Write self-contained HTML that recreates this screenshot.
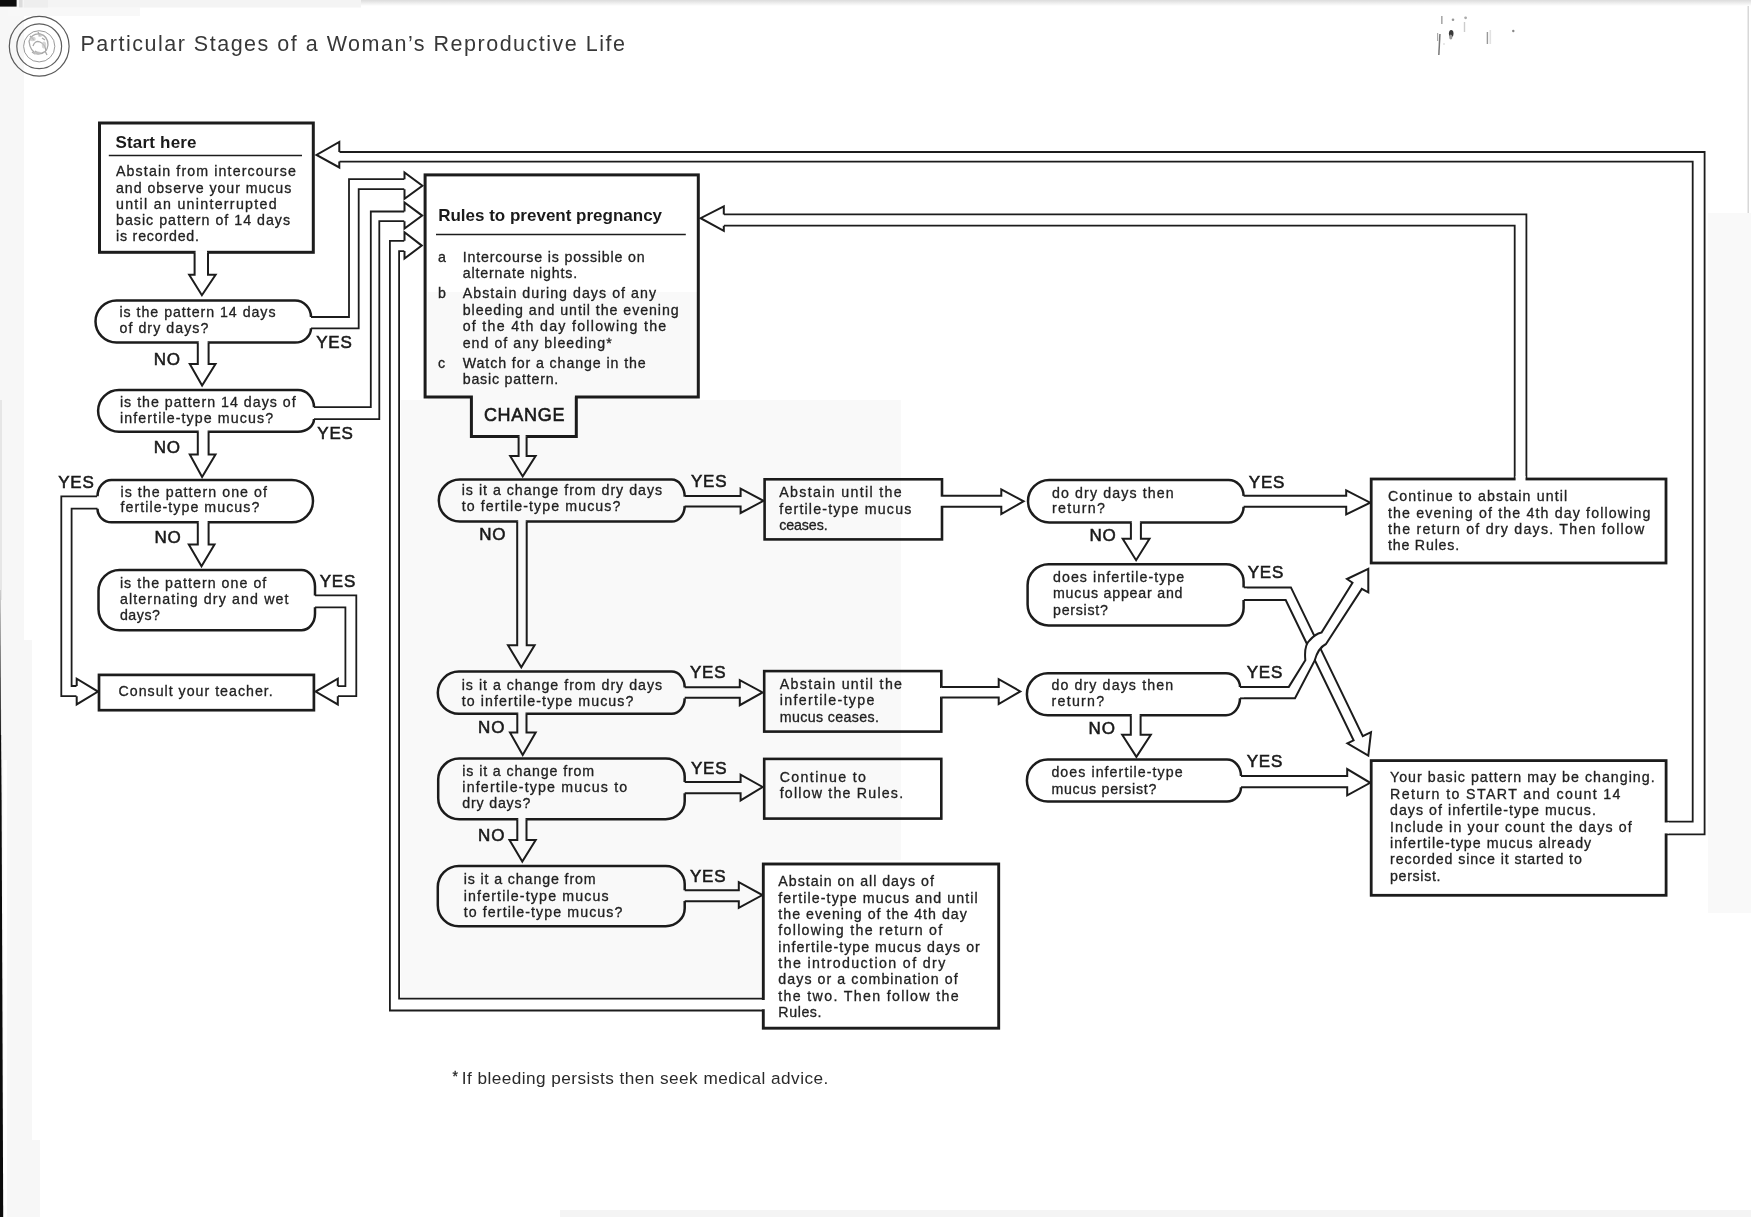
<!DOCTYPE html>
<html lang="en"><head><meta charset="utf-8"><title>Particular Stages of a Woman's Reproductive Life</title>
<style>
html,body{margin:0;padding:0;background:#fff;}
body{width:1751px;height:1217px;overflow:hidden;}
svg{display:block;filter:grayscale(1) blur(0.35px);font-family:"Liberation Sans",sans-serif;}
svg text{white-space:pre;}
</style></head><body>
<svg width="1751" height="1217" viewBox="0 0 1751 1217">
<defs><linearGradient id="tg" x1="0" y1="0" x2="0" y2="1"><stop offset="0" stop-color="#dcdcdc"/><stop offset="1" stop-color="#ffffff"/></linearGradient></defs>
<rect x="0" y="0" width="1751" height="1217" fill="#fff"/>
<path d="M0,0 L24,0 L24,640 L32,640 L32,1140 L40,1140 L40,1217 L0,1217 Z" fill="#f7f7f7"/>
<rect x="8" y="7.5" width="132" height="8.5" fill="#f8f8f8"/>
<defs><linearGradient id="lg" x1="0" y1="0" x2="0" y2="1"><stop offset="0" stop-color="#c8c8c8"/><stop offset="1" stop-color="#1a1a1a"/></linearGradient></defs>
<rect x="0" y="400" width="2" height="200" fill="#e6e6e6"/>
<path d="M0,590 L0.8,590 L1.1,740 L0,740 Z" fill="url(#lg)"/>
<path d="M3.4,760 L7,760 L7,1217 L3.4,1217 Z" fill="#fff"/>
<path d="M0,735 L1.1,735 L1.6,800 L3.2,1217 L0,1217 Z" fill="#0c0c0c"/>
<rect x="1708" y="213" width="43" height="700" fill="#f9f9f9"/>
<rect x="23" y="0" width="338" height="7.5" fill="#f4f4f4"/>
<rect x="24" y="0" width="24" height="7.6" fill="#eeeeee"/>
<rect x="361" y="0" width="1390" height="6" fill="url(#tg)"/>
<rect x="1747.5" y="6" width="1.5" height="207" fill="#d8d8d8"/>
<rect x="0" y="0" width="16.6" height="6.6" fill="#0c0c0c"/>
<rect x="19" y="0" width="3.6" height="7.4" fill="#dcdcdc"/>
<circle cx="39.2" cy="46.3" r="29.9" fill="none" stroke="#5a5a5a" stroke-width="1.2"/>
<circle cx="39.2" cy="46.3" r="22.4" fill="none" stroke="#5e5e5e" stroke-width="1.2"/>
<circle cx="39.2" cy="46.3" r="15.6" fill="none" stroke="#9a9a9a" stroke-width="1.0"/>
<g fill="none" stroke="#a8a8a8" stroke-width="1.3"><path d="M29,41 q3,-8 11,-7 q8,2 8,11 q-1,9 -10,9 q-8,-2 -9,-13"/><path d="M33,46 q2,-6 7,-4 q5,2 6,9"/><path d="M35,51 q4,4 9,1"/><path d="M30,36 l4,4 M38,32 l2,4 M45,51 l2,4 M42,38 l3,2 M32,52 l3,2"/></g>
<g fill="#c4c4c4" opacity="0.7"><ellipse cx="32.5" cy="39" rx="3.2" ry="2.2"/><ellipse cx="44" cy="45" rx="2.2" ry="3.5"/><ellipse cx="37" cy="53" rx="3.5" ry="1.8"/><ellipse cx="40" cy="35.5" rx="2" ry="1.6"/></g>
<text x="80.5" y="50.6" font-size="21.5" textLength="544.5" lengthAdjust="spacing" font-weight="normal" fill="#383838" >Particular Stages of a Woman’s Reproductive Life</text>
<g><ellipse cx="1451.2" cy="33.5" rx="2.3" ry="3.6" fill="#3a3a3a"/><ellipse cx="1450.8" cy="37" rx="1.6" ry="2.5" fill="#999"/><rect x="1438.6" y="34" width="1.5" height="21" fill="#777" transform="rotate(3 1439 45)"/><rect x="1437" y="33" width="1.2" height="8" fill="#aaa"/><rect x="1441" y="16" width="1.6" height="8" fill="#aaa"/><circle cx="1453" cy="19.7" r="1.3" fill="#999"/><circle cx="1465.6" cy="17.8" r="1.4" fill="#aaa"/><rect x="1463.8" y="22" width="1.4" height="10" fill="#ccc"/><rect x="1486.7" y="32" width="1.4" height="12" fill="#999"/><rect x="1489.5" y="30" width="1.6" height="14" fill="#e2e2e2"/><circle cx="1513.3" cy="31" r="1.2" fill="#888"/><circle cx="1444" cy="44" r="0.8" fill="#ccc"/></g>
<path d="M1667,821.6 L1692.7,821.6 L1692.7,161.6 L339.3,161.6" fill="none" stroke="#1c1c1c" stroke-width="1.8" stroke-linejoin="miter" stroke-miterlimit="10" />
<path d="M1667,834.3 L1704.6,834.3 L1704.6,152 L339.3,152" fill="none" stroke="#1c1c1c" stroke-width="1.8" stroke-linejoin="miter" stroke-miterlimit="10" />
<path d="M1514.7,478 L1514.7,225.7 L723.8,225.7" fill="none" stroke="#1c1c1c" stroke-width="1.8" stroke-linejoin="miter" stroke-miterlimit="10" />
<path d="M1526.4,478 L1526.4,214.4 L723.8,214.4" fill="none" stroke="#1c1c1c" stroke-width="1.8" stroke-linejoin="miter" stroke-miterlimit="10" />
<path d="M762,998.6 L399.1,998.6 L399.1,251.1 L404.5,251.1" fill="none" stroke="#1c1c1c" stroke-width="1.8" stroke-linejoin="miter" stroke-miterlimit="10" />
<path d="M762,1010.5 L389.9,1010.5 L389.9,240.8 L404.5,240.8" fill="none" stroke="#1c1c1c" stroke-width="1.8" stroke-linejoin="miter" stroke-miterlimit="10" />
<path d="M311,317 L349,317 L349,179.2 L404.5,179.2" fill="none" stroke="#1c1c1c" stroke-width="1.8" stroke-linejoin="miter" stroke-miterlimit="10" />
<path d="M311,328.3 L358.7,328.3 L358.7,189.2 L404.5,189.2" fill="none" stroke="#1c1c1c" stroke-width="1.8" stroke-linejoin="miter" stroke-miterlimit="10" />
<path d="M314,407.2 L370.8,407.2 L370.8,211.5 L404.5,211.5" fill="none" stroke="#1c1c1c" stroke-width="1.8" stroke-linejoin="miter" stroke-miterlimit="10" />
<path d="M314,419.1 L379.3,419.1 L379.3,221.2 L404.5,221.2" fill="none" stroke="#1c1c1c" stroke-width="1.8" stroke-linejoin="miter" stroke-miterlimit="10" />
<path d="M97,496.3 L61.3,496.3 L61.3,696.2 L76.7,696.2" fill="none" stroke="#1c1c1c" stroke-width="1.8" stroke-linejoin="miter" stroke-miterlimit="10" />
<path d="M98.3,508.7 L71.6,508.7 L71.6,686 L76.7,686" fill="none" stroke="#1c1c1c" stroke-width="1.8" stroke-linejoin="miter" stroke-miterlimit="10" />
<path d="M315,595.4 L356.3,595.4 L356.3,696.2 L337.8,696.2" fill="none" stroke="#1c1c1c" stroke-width="1.8" stroke-linejoin="miter" stroke-miterlimit="10" />
<path d="M315,607.3 L345.4,607.3 L345.4,686.2 L337.8,686.2" fill="none" stroke="#1c1c1c" stroke-width="1.8" stroke-linejoin="miter" stroke-miterlimit="10" />
<path d="M404.5,179.2 L404.5,172.4 L422.4,185.8 L404.5,198.7 L404.5,189.2" fill="#fff" stroke="#1c1c1c" stroke-width="2.0" stroke-linejoin="miter" stroke-miterlimit="10" />
<path d="M404.5,211.5 L404.5,202.5 L422.2,215.6 L404.5,228.5 L404.5,221.2" fill="#fff" stroke="#1c1c1c" stroke-width="2.0" stroke-linejoin="miter" stroke-miterlimit="10" />
<path d="M404.5,240.8 L404.5,232.3 L421.8,245.6 L404.5,258.6 L404.5,251.1" fill="#fff" stroke="#1c1c1c" stroke-width="2.0" stroke-linejoin="miter" stroke-miterlimit="10" />
<path d="M339.3,152 L339.3,141.9 L316.5,154.9 L339.3,167.5 L339.3,161.6" fill="#fff" stroke="#1c1c1c" stroke-width="2.0" stroke-linejoin="miter" stroke-miterlimit="10" />
<path d="M723.8,214.4 L723.8,206.3 L700.6,218.2 L723.8,230.9 L723.8,225.7" fill="#fff" stroke="#1c1c1c" stroke-width="2.0" stroke-linejoin="miter" stroke-miterlimit="10" />
<path d="M76.7,696.2 L76.7,704.4 L98,691.6 L76.7,678.7 L76.7,686" fill="#fff" stroke="#1c1c1c" stroke-width="2.0" stroke-linejoin="miter" stroke-miterlimit="10" />
<path d="M337.8,696.2 L337.8,704.4 L315.6,691.6 L337.8,678.7 L337.8,686.2" fill="#fff" stroke="#1c1c1c" stroke-width="2.0" stroke-linejoin="miter" stroke-miterlimit="10" />
<rect x="99.5" y="123" width="213.8" height="129.3" fill="#fff" stroke="#1c1c1c" stroke-width="3.0"/>
<path d="M108.8,155.6 L302,155.6" fill="none" stroke="#1c1c1c" stroke-width="1.5" stroke-linejoin="miter" stroke-miterlimit="10" />
<text x="115.4" y="147.8" font-size="17" letter-spacing="0.2" font-weight="bold" fill="#1a1a1a" >Start here</text>
<text x="116" y="176.1" font-size="14.2" textLength="179.8" lengthAdjust="spacing" font-weight="normal" fill="#222" stroke="#222" stroke-width="0.3">Abstain from intercourse</text>
<text x="116" y="192.5" font-size="14.2" textLength="175.3" lengthAdjust="spacing" font-weight="normal" fill="#222" stroke="#222" stroke-width="0.3">and observe your mucus</text>
<text x="116" y="209" font-size="14.2" textLength="160.6" lengthAdjust="spacing" font-weight="normal" fill="#222" stroke="#222" stroke-width="0.3">until an uninterrupted</text>
<text x="116" y="225.1" font-size="14.2" textLength="174.0" lengthAdjust="spacing" font-weight="normal" fill="#222" stroke="#222" stroke-width="0.3">basic pattern of 14 days</text>
<text x="116" y="241.4" font-size="14.2" textLength="83.0" lengthAdjust="spacing" font-weight="normal" fill="#222" stroke="#222" stroke-width="0.3">is recorded.</text>
<rect x="195.6" y="250.1" width="11.4" height="4.4" fill="#fff"/>
<path d="M194.6,252.3 L194.6,274.8 L189.2,274.8 L201.9,295.2 L215.6,274.8 L208,274.8 L208,252.3" fill="#fff" stroke="#1c1c1c" stroke-width="2.0" stroke-linejoin="miter" stroke-miterlimit="10" />
<path d="M311,317 A16,16.5 0 0 0 295,300.5 L116.55000000000001,300.5 A21.05000000000001,21.05000000000001 0 0 0 95.5,321.55 A21.05000000000001,21.05000000000001 0 0 0 116.55000000000001,342.6 L295,342.6 A16,14.300000000000011 0 0 0 311,328.3 " fill="#fff" stroke="#1c1c1c" stroke-width="2.5" stroke-linejoin="miter" stroke-miterlimit="10" />
<text x="119.5" y="317.3" font-size="14.2" textLength="156.0" lengthAdjust="spacing" font-weight="normal" fill="#222" stroke="#222" stroke-width="0.3">is the pattern 14 days</text>
<text x="119.5" y="333.2" font-size="14.2" textLength="88.8" lengthAdjust="spacing" font-weight="normal" fill="#222" stroke="#222" stroke-width="0.3">of dry days?</text>
<rect x="198.8" y="340.4" width="8.8" height="4.4" fill="#fff"/>
<path d="M197.8,342.6 L197.8,364 L189.8,364 L202.1,385.6 L215.5,364 L208.6,364 L208.6,342.6" fill="#fff" stroke="#1c1c1c" stroke-width="2.0" stroke-linejoin="miter" stroke-miterlimit="10" />
<text x="153.8" y="365" font-size="17" letter-spacing="0.8" font-weight="normal" fill="#1a1a1a" stroke="#1a1a1a" stroke-width="0.55">NO</text>
<text x="316.2" y="348.2" font-size="17" letter-spacing="0.8" font-weight="normal" fill="#1a1a1a" stroke="#1a1a1a" stroke-width="0.55">YES</text>
<path d="M314,407.2 A16,17.19999999999999 0 0 0 298,390 L118.94999999999999,390 A20.849999999999994,20.849999999999994 0 0 0 98.1,410.85 A20.849999999999994,20.849999999999994 0 0 0 118.94999999999999,431.7 L298,431.7 A16,12.599999999999966 0 0 0 314,419.1 " fill="#fff" stroke="#1c1c1c" stroke-width="2.5" stroke-linejoin="miter" stroke-miterlimit="10" />
<text x="119.9" y="406.8" font-size="14.2" textLength="175.8" lengthAdjust="spacing" font-weight="normal" fill="#222" stroke="#222" stroke-width="0.3">is the pattern 14 days of</text>
<text x="119.9" y="422.6" font-size="14.2" textLength="153.2" lengthAdjust="spacing" font-weight="normal" fill="#222" stroke="#222" stroke-width="0.3">infertile-type mucus?</text>
<rect x="198.8" y="429.5" width="8.8" height="4.4" fill="#fff"/>
<path d="M197.8,431.7 L197.8,454.5 L189.8,454.5 L202.1,477.1 L215.5,454.5 L208.6,454.5 L208.6,431.7" fill="#fff" stroke="#1c1c1c" stroke-width="2.0" stroke-linejoin="miter" stroke-miterlimit="10" />
<text x="153.8" y="453.4" font-size="17" letter-spacing="0.8" font-weight="normal" fill="#1a1a1a" stroke="#1a1a1a" stroke-width="0.55">NO</text>
<text x="317.3" y="439" font-size="17" letter-spacing="0.8" font-weight="normal" fill="#1a1a1a" stroke="#1a1a1a" stroke-width="0.55">YES</text>
<path d="M97.5,496.3 A14,16.400000000000034 0 0 1 111.5,479.9 L291.8,479.9 A21.19999999999999,21.19999999999999 0 0 1 313,501.09999999999997 A21.19999999999999,21.19999999999999 0 0 1 291.8,522.3 L111.5,522.3 A14,13.599999999999966 0 0 1 97.5,508.7" fill="#fff" stroke="#1c1c1c" stroke-width="2.5" stroke-linejoin="miter" stroke-miterlimit="10" />
<text x="120.5" y="496.6" font-size="14.2" textLength="146.4" lengthAdjust="spacing" font-weight="normal" fill="#222" stroke="#222" stroke-width="0.3">is the pattern one of</text>
<text x="120.5" y="512.4" font-size="14.2" textLength="138.8" lengthAdjust="spacing" font-weight="normal" fill="#222" stroke="#222" stroke-width="0.3">fertile-type mucus?</text>
<rect x="198.8" y="520.1" width="8.8" height="4.4" fill="#fff"/>
<path d="M197.8,522.3 L197.8,544.4 L188.8,544.4 L201.5,566.2 L214.5,544.4 L208.6,544.4 L208.6,522.3" fill="#fff" stroke="#1c1c1c" stroke-width="2.0" stroke-linejoin="miter" stroke-miterlimit="10" />
<text x="154.4" y="543" font-size="17" letter-spacing="0.8" font-weight="normal" fill="#1a1a1a" stroke="#1a1a1a" stroke-width="0.55">NO</text>
<text x="58.2" y="487.8" font-size="17" letter-spacing="0.8" font-weight="normal" fill="#1a1a1a" stroke="#1a1a1a" stroke-width="0.55">YES</text>
<path d="M315,595.4 L315,586.5 A13.5,16.5 0 0 0 301.5,570 L119.5,570 A21,21 0 0 0 98.5,591 L98.5,609.2 A21,21 0 0 0 119.5,630.2 L301.5,630.2 A13.5,16.5 0 0 0 315,613.7 L315,607.3" fill="#fff" stroke="#1c1c1c" stroke-width="2.5" stroke-linejoin="miter" stroke-miterlimit="10" />
<text x="119.9" y="587.6" font-size="14.2" textLength="146.4" lengthAdjust="spacing" font-weight="normal" fill="#222" stroke="#222" stroke-width="0.3">is the pattern one of</text>
<text x="119.9" y="603.6" font-size="14.2" textLength="168.6" lengthAdjust="spacing" font-weight="normal" fill="#222" stroke="#222" stroke-width="0.3">alternating dry and wet</text>
<text x="119.9" y="619.5" font-size="14.2" textLength="40.0" lengthAdjust="spacing" font-weight="normal" fill="#222" stroke="#222" stroke-width="0.3">days?</text>
<text x="319.7" y="586.8" font-size="17" letter-spacing="0.8" font-weight="normal" fill="#1a1a1a" stroke="#1a1a1a" stroke-width="0.55">YES</text>
<rect x="99" y="674.9" width="214.9" height="35.3" fill="#fff" stroke="#1c1c1c" stroke-width="2.7"/>
<text x="118.5" y="695.7" font-size="14.2" textLength="154.2" lengthAdjust="spacing" font-weight="normal" fill="#222" stroke="#222" stroke-width="0.3">Consult your teacher.</text>
<rect x="425.1" y="174.9" width="273.2" height="222.1" fill="#fff" stroke="#1c1c1c" stroke-width="3.0"/>
<rect x="472.9" y="394.0" width="102.0" height="6.0" fill="#fff"/>
<path d="M471.4,397 L471.4,436.5 L576.3,436.5 L576.3,397" fill="#fff" stroke="#1c1c1c" stroke-width="3.0" stroke-linejoin="miter" stroke-miterlimit="10" />
<text x="483.9" y="420.7" font-size="18" letter-spacing="0.7" font-weight="normal" fill="#1a1a1a" stroke="#1a1a1a" stroke-width="0.6">CHANGE</text>
<rect x="519.6" y="434.3" width="6.0" height="4.4" fill="#fff"/>
<path d="M518.6,436.5 L518.6,456.1 L510.2,456.1 L522.7,476.4 L535.6,456.1 L526.6,456.1 L526.6,436.5" fill="#fff" stroke="#1c1c1c" stroke-width="2.0" stroke-linejoin="miter" stroke-miterlimit="10" />
<text x="438.2" y="220.9" font-size="17" letter-spacing="0" font-weight="bold" fill="#1a1a1a" >Rules to prevent pregnancy</text>
<path d="M436,234.5 L685.8,234.5" fill="none" stroke="#1c1c1c" stroke-width="1.5" stroke-linejoin="miter" stroke-miterlimit="10" />
<text x="438" y="261.8" font-size="14.2" letter-spacing="1.25" font-weight="normal" fill="#222" stroke="#222" stroke-width="0.3">a</text>
<text x="438" y="298.2" font-size="14.2" letter-spacing="1.25" font-weight="normal" fill="#222" stroke="#222" stroke-width="0.3">b</text>
<text x="438" y="367.6" font-size="14.2" letter-spacing="1.25" font-weight="normal" fill="#222" stroke="#222" stroke-width="0.3">c</text>
<text x="462.7" y="261.8" font-size="14.2" textLength="182.0" lengthAdjust="spacing" font-weight="normal" fill="#222" stroke="#222" stroke-width="0.3">Intercourse is possible on</text>
<text x="462.7" y="278.2" font-size="14.2" textLength="114.5" lengthAdjust="spacing" font-weight="normal" fill="#222" stroke="#222" stroke-width="0.3">alternate nights.</text>
<text x="462.7" y="298.2" font-size="14.2" textLength="193.3" lengthAdjust="spacing" font-weight="normal" fill="#222" stroke="#222" stroke-width="0.3">Abstain during days of any</text>
<text x="462.7" y="314.6" font-size="14.2" textLength="216.0" lengthAdjust="spacing" font-weight="normal" fill="#222" stroke="#222" stroke-width="0.3">bleeding and until the evening</text>
<text x="462.7" y="331" font-size="14.2" textLength="203.5" lengthAdjust="spacing" font-weight="normal" fill="#222" stroke="#222" stroke-width="0.3">of the 4th day following the</text>
<text x="462.7" y="347.5" font-size="14.2" textLength="149.0" lengthAdjust="spacing" font-weight="normal" fill="#222" stroke="#222" stroke-width="0.3">end of any bleeding*</text>
<text x="462.7" y="367.6" font-size="14.2" textLength="183.0" lengthAdjust="spacing" font-weight="normal" fill="#222" stroke="#222" stroke-width="0.3">Watch for a change in the</text>
<text x="462.7" y="383.7" font-size="14.2" textLength="95.6" lengthAdjust="spacing" font-weight="normal" fill="#222" stroke="#222" stroke-width="0.3">basic pattern.</text>
<path d="M684.7,496.8 A13,17.19999999999999 0 0 0 671.7,479.6 L459.8,479.6 A21.0,21.0 0 0 0 438.8,500.6 A21.0,21.0 0 0 0 459.8,521.6 L671.7,521.6 A13,15.800000000000011 0 0 0 684.7,505.8 " fill="#fff" stroke="#1c1c1c" stroke-width="2.5" stroke-linejoin="miter" stroke-miterlimit="10" />
<text x="461.7" y="495.1" font-size="14.2" textLength="200.4" lengthAdjust="spacing" font-weight="normal" fill="#222" stroke="#222" stroke-width="0.3">is it a change from dry days</text>
<text x="461.7" y="511" font-size="14.2" textLength="158.7" lengthAdjust="spacing" font-weight="normal" fill="#222" stroke="#222" stroke-width="0.3">to fertile-type mucus?</text>
<text x="690.9" y="486.5" font-size="17" letter-spacing="0.8" font-weight="normal" fill="#1a1a1a" stroke="#1a1a1a" stroke-width="0.55">YES</text>
<text x="479.2" y="540.4" font-size="17" letter-spacing="0.8" font-weight="normal" fill="#1a1a1a" stroke="#1a1a1a" stroke-width="0.55">NO</text>
<rect x="682.5" y="497.0" width="4.4" height="8.6" fill="#fff"/>
<path d="M684.7,496 L740.6,496 L740.6,488.7 L763.5,500.8 L740.6,513 L740.6,506.6 L684.7,506.6" fill="#fff" stroke="#1c1c1c" stroke-width="2.0" stroke-linejoin="miter" stroke-miterlimit="10" />
<rect x="518.2" y="519.4" width="7.5" height="4.4" fill="#fff"/>
<path d="M517.2,521.6 L517.2,645.2 L508,645.2 L521.3,667.2 L534.6,645.2 L526.7,645.2 L526.7,521.6" fill="#fff" stroke="#1c1c1c" stroke-width="2.0" stroke-linejoin="miter" stroke-miterlimit="10" />
<path d="M684.7,687.4 A13,15.799999999999955 0 0 0 671.7,671.6 L458.9,671.6 A21.099999999999966,21.099999999999966 0 0 0 437.8,692.7 A21.099999999999966,21.099999999999966 0 0 0 458.9,713.8 L671.7,713.8 A13,15.5 0 0 0 684.7,698.3 " fill="#fff" stroke="#1c1c1c" stroke-width="2.5" stroke-linejoin="miter" stroke-miterlimit="10" />
<text x="461.7" y="689.8" font-size="14.2" textLength="200.4" lengthAdjust="spacing" font-weight="normal" fill="#222" stroke="#222" stroke-width="0.3">is it a change from dry days</text>
<text x="461.7" y="705.9" font-size="14.2" textLength="171.7" lengthAdjust="spacing" font-weight="normal" fill="#222" stroke="#222" stroke-width="0.3">to infertile-type mucus?</text>
<text x="689.9" y="677.6" font-size="17" letter-spacing="0.8" font-weight="normal" fill="#1a1a1a" stroke="#1a1a1a" stroke-width="0.55">YES</text>
<text x="478.1" y="732.6" font-size="17" letter-spacing="0.8" font-weight="normal" fill="#1a1a1a" stroke="#1a1a1a" stroke-width="0.55">NO</text>
<rect x="682.5" y="688.2" width="4.4" height="8.6" fill="#fff"/>
<path d="M684.7,687.2 L739.8,687.2 L739.8,680.1 L762.6,692.4 L739.8,705.2 L739.8,697.8 L684.7,697.8" fill="#fff" stroke="#1c1c1c" stroke-width="2.0" stroke-linejoin="miter" stroke-miterlimit="10" />
<rect x="518.3" y="711.6" width="7.2" height="4.4" fill="#fff"/>
<path d="M517.3,713.8 L517.3,732.6 L510,732.6 L522.7,755 L535.7,732.6 L526.5,732.6 L526.5,713.8" fill="#fff" stroke="#1c1c1c" stroke-width="2.0" stroke-linejoin="miter" stroke-miterlimit="10" />
<path d="M684.7,782 L684.7,776.6 A19,18 0 0 0 665.7,758.6 L459.2,758.6 A21,21 0 0 0 438.2,779.6 L438.2,798.2 A21,21 0 0 0 459.2,819.2 L665.7,819.2 A19,18 0 0 0 684.7,801.2 L684.7,793.3" fill="#fff" stroke="#1c1c1c" stroke-width="2.5" stroke-linejoin="miter" stroke-miterlimit="10" />
<text x="462.3" y="775.8" font-size="14.2" textLength="131.9" lengthAdjust="spacing" font-weight="normal" fill="#222" stroke="#222" stroke-width="0.3">is it a change from</text>
<text x="462.3" y="792.2" font-size="14.2" textLength="164.9" lengthAdjust="spacing" font-weight="normal" fill="#222" stroke="#222" stroke-width="0.3">infertile-type mucus to</text>
<text x="462.3" y="808.1" font-size="14.2" textLength="68.0" lengthAdjust="spacing" font-weight="normal" fill="#222" stroke="#222" stroke-width="0.3">dry days?</text>
<text x="690.9" y="773.5" font-size="17" letter-spacing="0.8" font-weight="normal" fill="#1a1a1a" stroke="#1a1a1a" stroke-width="0.55">YES</text>
<text x="478.1" y="840.6" font-size="17" letter-spacing="0.8" font-weight="normal" fill="#1a1a1a" stroke="#1a1a1a" stroke-width="0.55">NO</text>
<rect x="682.5" y="783.0" width="4.4" height="9.2" fill="#fff"/>
<path d="M684.7,782 L740.6,782 L740.6,774.7 L762.6,787 L740.6,800.4 L740.6,793.2 L684.7,793.2" fill="#fff" stroke="#1c1c1c" stroke-width="2.0" stroke-linejoin="miter" stroke-miterlimit="10" />
<rect x="518.3" y="817.0" width="7.2" height="4.4" fill="#fff"/>
<path d="M517.3,819.2 L517.3,840.1 L509.5,840.1 L522.3,861.5 L535.7,840.1 L526.5,840.1 L526.5,819.2" fill="#fff" stroke="#1c1c1c" stroke-width="2.0" stroke-linejoin="miter" stroke-miterlimit="10" />
<path d="M684.7,890.3 L684.7,884 A19,18 0 0 0 665.7,866 L458.8,866 A21,21 0 0 0 437.8,887 L437.8,905.2 A21,21 0 0 0 458.8,926.2 L665.7,926.2 A19,18 0 0 0 684.7,908.2 L684.7,901" fill="#fff" stroke="#1c1c1c" stroke-width="2.5" stroke-linejoin="miter" stroke-miterlimit="10" />
<text x="463.7" y="884.3" font-size="14.2" textLength="131.9" lengthAdjust="spacing" font-weight="normal" fill="#222" stroke="#222" stroke-width="0.3">is it a change from</text>
<text x="463.7" y="900.7" font-size="14.2" textLength="145.0" lengthAdjust="spacing" font-weight="normal" fill="#222" stroke="#222" stroke-width="0.3">infertile-type mucus</text>
<text x="463.7" y="917.2" font-size="14.2" textLength="158.7" lengthAdjust="spacing" font-weight="normal" fill="#222" stroke="#222" stroke-width="0.3">to fertile-type mucus?</text>
<text x="689.9" y="882.1" font-size="17" letter-spacing="0.8" font-weight="normal" fill="#1a1a1a" stroke="#1a1a1a" stroke-width="0.55">YES</text>
<rect x="682.5" y="891.2" width="4.4" height="9.0" fill="#fff"/>
<path d="M684.7,890.2 L738.8,890.2 L738.8,882.1 L762.4,895.1 L738.8,907.8 L738.8,901.2 L684.7,901.2" fill="#fff" stroke="#1c1c1c" stroke-width="2.0" stroke-linejoin="miter" stroke-miterlimit="10" />
<rect x="764.6" y="479.3" width="177.4" height="60.1" fill="#fff" stroke="#1c1c1c" stroke-width="2.6"/>
<text x="779.3" y="497.2" font-size="14.2" textLength="122.3" lengthAdjust="spacing" font-weight="normal" fill="#222" stroke="#222" stroke-width="0.3">Abstain until the</text>
<text x="779.3" y="513.6" font-size="14.2" textLength="132.0" lengthAdjust="spacing" font-weight="normal" fill="#222" stroke="#222" stroke-width="0.3">fertile-type mucus</text>
<text x="779.3" y="530" font-size="14.2" textLength="48.3" lengthAdjust="spacing" font-weight="normal" fill="#222" stroke="#222" stroke-width="0.3">ceases.</text>
<rect x="939.8" y="496.7" width="4.4" height="9.1" fill="#fff"/>
<path d="M942,495.7 L1001.3,495.7 L1001.3,489.3 L1023.6,501.3 L1001.3,514 L1001.3,506.8 L942,506.8" fill="#fff" stroke="#1c1c1c" stroke-width="2.0" stroke-linejoin="miter" stroke-miterlimit="10" />
<rect x="764.2" y="671.1" width="177.1" height="60.5" fill="#fff" stroke="#1c1c1c" stroke-width="2.6"/>
<text x="779.7" y="688.9" font-size="14.2" textLength="122.3" lengthAdjust="spacing" font-weight="normal" fill="#222" stroke="#222" stroke-width="0.3">Abstain until the</text>
<text x="779.7" y="705.4" font-size="14.2" textLength="94.6" lengthAdjust="spacing" font-weight="normal" fill="#222" stroke="#222" stroke-width="0.3">infertile-type</text>
<text x="779.7" y="721.8" font-size="14.2" textLength="99.3" lengthAdjust="spacing" font-weight="normal" fill="#222" stroke="#222" stroke-width="0.3">mucus ceases.</text>
<rect x="939.1" y="688.0" width="4.4" height="8.6" fill="#fff"/>
<path d="M941.3,687 L998.7,687 L998.7,679.1 L1020.3,691.4 L998.7,704.1 L998.7,697.6 L941.3,697.6" fill="#fff" stroke="#1c1c1c" stroke-width="2.0" stroke-linejoin="miter" stroke-miterlimit="10" />
<rect x="764.2" y="758.9" width="177.1" height="59.7" fill="#fff" stroke="#1c1c1c" stroke-width="2.6"/>
<text x="779.7" y="781.9" font-size="14.2" textLength="86.3" lengthAdjust="spacing" font-weight="normal" fill="#222" stroke="#222" stroke-width="0.3">Continue to</text>
<text x="779.7" y="798.3" font-size="14.2" textLength="123.4" lengthAdjust="spacing" font-weight="normal" fill="#222" stroke="#222" stroke-width="0.3">follow the Rules.</text>
<rect x="763.3" y="864" width="235.4" height="164.2" fill="#fff" stroke="#1c1c1c" stroke-width="2.9"/>
<rect x="760.0" y="1000.0" width="6.0" height="9.2" fill="#fff"/>
<text x="778.3" y="886.3" font-size="14.2" textLength="155.6" lengthAdjust="spacing" font-weight="normal" fill="#222" stroke="#222" stroke-width="0.3">Abstain on all days of</text>
<text x="778.3" y="902.7" font-size="14.2" textLength="199.4" lengthAdjust="spacing" font-weight="normal" fill="#222" stroke="#222" stroke-width="0.3">fertile-type mucus and until</text>
<text x="778.3" y="919.2" font-size="14.2" textLength="188.5" lengthAdjust="spacing" font-weight="normal" fill="#222" stroke="#222" stroke-width="0.3">the evening of the 4th day</text>
<text x="778.3" y="935.2" font-size="14.2" textLength="163.9" lengthAdjust="spacing" font-weight="normal" fill="#222" stroke="#222" stroke-width="0.3">following the return of</text>
<text x="778.3" y="951.6" font-size="14.2" textLength="201.5" lengthAdjust="spacing" font-weight="normal" fill="#222" stroke="#222" stroke-width="0.3">infertile-type mucus days or</text>
<text x="778.3" y="967.9" font-size="14.2" textLength="167.0" lengthAdjust="spacing" font-weight="normal" fill="#222" stroke="#222" stroke-width="0.3">the introduction of dry</text>
<text x="778.3" y="984.3" font-size="14.2" textLength="179.3" lengthAdjust="spacing" font-weight="normal" fill="#222" stroke="#222" stroke-width="0.3">days or a combination of</text>
<text x="778.3" y="1000.8" font-size="14.2" textLength="180.3" lengthAdjust="spacing" font-weight="normal" fill="#222" stroke="#222" stroke-width="0.3">the two. Then follow the</text>
<text x="778.3" y="1017.2" font-size="14.2" textLength="43.2" lengthAdjust="spacing" font-weight="normal" fill="#222" stroke="#222" stroke-width="0.3">Rules.</text>
<path d="M1243.6,587.4 L1290.9,587.4 L1362.8,736.2 L1371,732.1 L1368.3,755.7 L1347.4,743.4 L1353.6,740.3 L1285.7,600 L1243.6,600" fill="#fff" stroke="#1c1c1c" stroke-width="2.0" stroke-linejoin="miter" stroke-miterlimit="10" />
<path d="M1240,686.9 L1288.8,686.9 L1305.3,660.2 Q1304,645 1309.5,640.5 Q1315,634 1321.5,632.5 L1352.5,582.7 L1347,579 L1368.3,568.8 L1368.3,592.4 L1361.8,588.9 L1326,644 Q1318,648 1314.5,661 L1295,698.2 L1240,698.2" fill="#fff" stroke="#1c1c1c" stroke-width="2.0" stroke-linejoin="miter" stroke-miterlimit="10" />
<path d="M1243.6,495.9 A15,15.899999999999977 0 0 0 1228.6,480 L1049.2,480 A21.19999999999999,21.19999999999999 0 0 0 1028,501.2 A21.19999999999999,21.19999999999999 0 0 0 1049.2,522.4 L1228.6,522.4 A15,15.599999999999966 0 0 0 1243.6,506.8 " fill="#fff" stroke="#1c1c1c" stroke-width="2.5" stroke-linejoin="miter" stroke-miterlimit="10" />
<text x="1052" y="497.6" font-size="14.2" textLength="121.7" lengthAdjust="spacing" font-weight="normal" fill="#222" stroke="#222" stroke-width="0.3">do dry days then</text>
<text x="1052" y="513.4" font-size="14.2" textLength="52.8" lengthAdjust="spacing" font-weight="normal" fill="#222" stroke="#222" stroke-width="0.3">return?</text>
<text x="1248.8" y="487.7" font-size="17" letter-spacing="0.8" font-weight="normal" fill="#1a1a1a" stroke="#1a1a1a" stroke-width="0.55">YES</text>
<text x="1089.4" y="541.2" font-size="17" letter-spacing="0.8" font-weight="normal" fill="#1a1a1a" stroke="#1a1a1a" stroke-width="0.55">NO</text>
<rect x="1241.4" y="496.7" width="4.4" height="9.1" fill="#fff"/>
<path d="M1243.6,495.7 L1346.2,495.7 L1346.2,490.4 L1370.2,502.7 L1346.2,514.4 L1346.2,506.8 L1243.6,506.8" fill="#fff" stroke="#1c1c1c" stroke-width="2.0" stroke-linejoin="miter" stroke-miterlimit="10" />
<rect x="1131.9" y="520.2" width="8.0" height="4.4" fill="#fff"/>
<path d="M1130.9,522.4 L1130.9,538.7 L1122.7,538.7 L1136.1,560.2 L1149.5,538.7 L1140.9,538.7 L1140.9,522.4" fill="#fff" stroke="#1c1c1c" stroke-width="2.0" stroke-linejoin="miter" stroke-miterlimit="10" />
<rect x="1241.0" y="588.6" width="6.0" height="10.2" fill="#fff"/>
<path d="M1243.6,587.4 L1243.6,581.7 A17.5,17.5 0 0 0 1226.1,564.2 L1048.6,564.2 A21,21 0 0 0 1027.6,585.2 L1027.6,604.4 A21,21 0 0 0 1048.6,625.4 L1226.1,625.4 A17.5,17.5 0 0 0 1243.6,607.9 L1243.6,600" fill="#fff" stroke="#1c1c1c" stroke-width="2.5" stroke-linejoin="miter" stroke-miterlimit="10" />
<text x="1053" y="581.9" font-size="14.2" textLength="131.2" lengthAdjust="spacing" font-weight="normal" fill="#222" stroke="#222" stroke-width="0.3">does infertile-type</text>
<text x="1053" y="598.3" font-size="14.2" textLength="129.5" lengthAdjust="spacing" font-weight="normal" fill="#222" stroke="#222" stroke-width="0.3">mucus appear and</text>
<text x="1053" y="614.8" font-size="14.2" textLength="54.9" lengthAdjust="spacing" font-weight="normal" fill="#222" stroke="#222" stroke-width="0.3">persist?</text>
<text x="1247.7" y="578.1" font-size="17" letter-spacing="0.8" font-weight="normal" fill="#1a1a1a" stroke="#1a1a1a" stroke-width="0.55">YES</text>
<rect x="1238.0" y="688.0" width="6.0" height="9.2" fill="#fff"/>
<path d="M1240,686.9 A14,13.600000000000023 0 0 0 1226,673.3 L1047.8500000000001,673.3 A20.950000000000045,20.950000000000045 0 0 0 1026.9,694.25 A20.950000000000045,20.950000000000045 0 0 0 1047.8500000000001,715.2 L1226,715.2 A14,17.0 0 0 0 1240,698.2 " fill="#fff" stroke="#1c1c1c" stroke-width="2.5" stroke-linejoin="miter" stroke-miterlimit="10" />
<text x="1051.4" y="690.3" font-size="14.2" textLength="121.7" lengthAdjust="spacing" font-weight="normal" fill="#222" stroke="#222" stroke-width="0.3">do dry days then</text>
<text x="1051.4" y="706.2" font-size="14.2" textLength="52.8" lengthAdjust="spacing" font-weight="normal" fill="#222" stroke="#222" stroke-width="0.3">return?</text>
<text x="1246.7" y="678.3" font-size="17" letter-spacing="0.8" font-weight="normal" fill="#1a1a1a" stroke="#1a1a1a" stroke-width="0.55">YES</text>
<text x="1088.6" y="733.7" font-size="17" letter-spacing="0.8" font-weight="normal" fill="#1a1a1a" stroke="#1a1a1a" stroke-width="0.55">NO</text>
<rect x="1131.8" y="713.0" width="7.8" height="4.4" fill="#fff"/>
<path d="M1130.8,715.2 L1130.8,734.8 L1122.2,734.8 L1136.4,756.8 L1150.8,734.8 L1140.6,734.8 L1140.6,715.2" fill="#fff" stroke="#1c1c1c" stroke-width="2.0" stroke-linejoin="miter" stroke-miterlimit="10" />
<path d="M1241,775.9 A14,16.299999999999955 0 0 0 1227,759.6 L1047.8000000000002,759.6 A20.899999999999977,20.899999999999977 0 0 0 1026.9,780.5 A20.899999999999977,20.899999999999977 0 0 0 1047.8000000000002,801.4 L1227,801.4 A14,14.100000000000023 0 0 0 1241,787.3 " fill="#fff" stroke="#1c1c1c" stroke-width="2.5" stroke-linejoin="miter" stroke-miterlimit="10" />
<text x="1051.4" y="777.1" font-size="14.2" textLength="131.2" lengthAdjust="spacing" font-weight="normal" fill="#222" stroke="#222" stroke-width="0.3">does infertile-type</text>
<text x="1051.4" y="793.5" font-size="14.2" textLength="105.0" lengthAdjust="spacing" font-weight="normal" fill="#222" stroke="#222" stroke-width="0.3">mucus persist?</text>
<text x="1246.7" y="766.6" font-size="17" letter-spacing="0.8" font-weight="normal" fill="#1a1a1a" stroke="#1a1a1a" stroke-width="0.55">YES</text>
<rect x="1238.8" y="776.9" width="4.4" height="9.4" fill="#fff"/>
<path d="M1241,775.9 L1347.2,775.9 L1347.2,769.1 L1370.2,782.8 L1347.2,795.3 L1347.2,787.3 L1241,787.3" fill="#fff" stroke="#1c1c1c" stroke-width="2.0" stroke-linejoin="miter" stroke-miterlimit="10" />
<rect x="1371.2" y="479" width="294.8" height="84.0" fill="#fff" stroke="#1c1c1c" stroke-width="2.8"/>
<rect x="1515.6" y="476.0" width="9.9" height="6.0" fill="#fff"/>
<text x="1387.9" y="501.1" font-size="14.2" textLength="179.3" lengthAdjust="spacing" font-weight="normal" fill="#222" stroke="#222" stroke-width="0.3">Continue to abstain until</text>
<text x="1387.9" y="517.7" font-size="14.2" textLength="262.5" lengthAdjust="spacing" font-weight="normal" fill="#222" stroke="#222" stroke-width="0.3">the evening of the 4th day following</text>
<text x="1387.9" y="534.2" font-size="14.2" textLength="256.4" lengthAdjust="spacing" font-weight="normal" fill="#222" stroke="#222" stroke-width="0.3">the return of dry days. Then follow</text>
<text x="1387.9" y="550.4" font-size="14.2" textLength="71.3" lengthAdjust="spacing" font-weight="normal" fill="#222" stroke="#222" stroke-width="0.3">the Rules.</text>
<rect x="1371.2" y="760.6" width="294.9" height="134.7" fill="#fff" stroke="#1c1c1c" stroke-width="2.8"/>
<rect x="1663.0" y="822.5" width="6.0" height="10.9" fill="#fff"/>
<text x="1390" y="782.2" font-size="14.2" textLength="264.6" lengthAdjust="spacing" font-weight="normal" fill="#222" stroke="#222" stroke-width="0.3">Your basic pattern may be changing.</text>
<text x="1390" y="798.6" font-size="14.2" textLength="230.5" lengthAdjust="spacing" font-weight="normal" fill="#222" stroke="#222" stroke-width="0.3">Return to START and count 14</text>
<text x="1390" y="815" font-size="14.2" textLength="205.9" lengthAdjust="spacing" font-weight="normal" fill="#222" stroke="#222" stroke-width="0.3">days of infertile-type mucus.</text>
<text x="1390" y="831.5" font-size="14.2" textLength="241.8" lengthAdjust="spacing" font-weight="normal" fill="#222" stroke="#222" stroke-width="0.3">Include in your count the days of</text>
<text x="1390" y="847.9" font-size="14.2" textLength="201.2" lengthAdjust="spacing" font-weight="normal" fill="#222" stroke="#222" stroke-width="0.3">infertile-type mucus already</text>
<text x="1390" y="864.3" font-size="14.2" textLength="191.8" lengthAdjust="spacing" font-weight="normal" fill="#222" stroke="#222" stroke-width="0.3">recorded since it started to</text>
<text x="1390" y="880.8" font-size="14.2" textLength="50.5" lengthAdjust="spacing" font-weight="normal" fill="#222" stroke="#222" stroke-width="0.3">persist.</text>
<text x="452.5" y="1080.5" font-size="14" letter-spacing="0" font-weight="normal" fill="#222" stroke="#222" stroke-width="0.3">*</text>
<text x="461.7" y="1083.8" font-size="17.2" textLength="366.6" lengthAdjust="spacing" font-weight="normal" fill="#2a2a2a" >If bleeding persists then seek medical advice.</text>
<path d="M428,292 L697,292 L697,400 L901,400 L901,860 L761,860 L761,997 L401,997 L401,400 L428,400 Z" fill="#000" fill-opacity="0.022"/>
<rect x="560" y="1210" width="1191" height="7" fill="#f4f4f4"/>
</svg>
</body></html>
